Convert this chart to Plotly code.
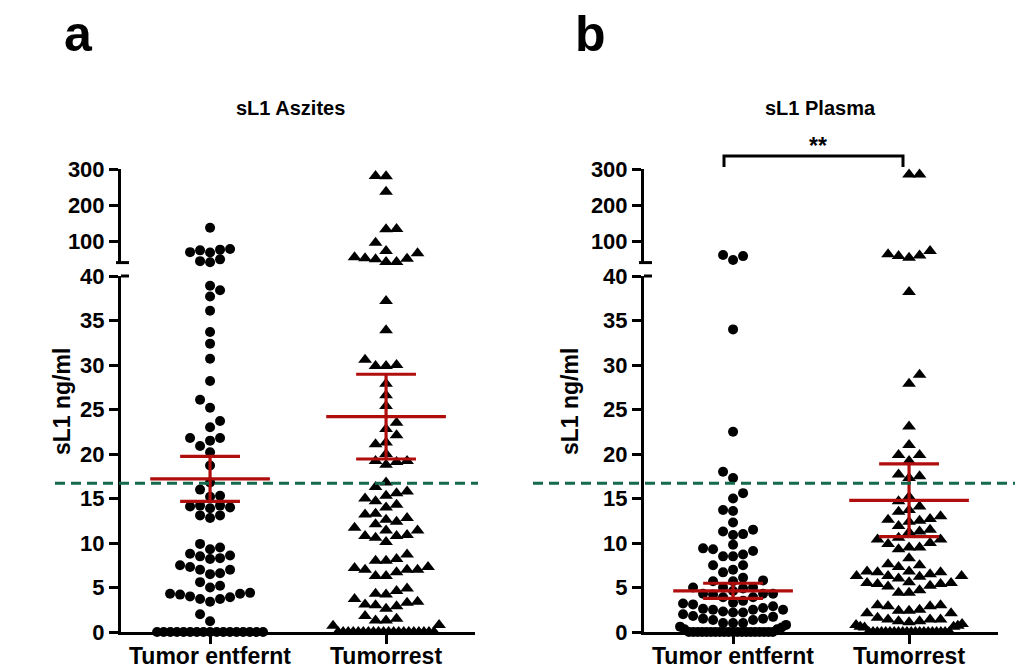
import numpy as np
import plotly.graph_objects as go

W, H = 1015, 668

categories = ["Tumor entfernt", "Tumorrest"]
panel_titles = ["sL1 Aszites", "sL1 Plasma"]
panel_letters = ["a", "b"]
y_title = "sL1 ng/ml"

lower_ticks = [0, 5, 10, 15, 20, 25, 30, 35, 40]
upper_ticks = [100, 200, 300]
lower_range = [0, 40]
upper_range = [40, 300]

cutoff = 16.7

aszites_entfernt = [
    137, 78, 74, 69, 76, 68, 49, 41, 44,
    38.9, 38.4, 37.7, 36.1, 33.7, 32.4, 30.7, 28.2, 26.1, 25.2, 23.7, 23.0,
    21.8, 21.5, 21.8, 20.9, 20.2, 18.7,
    16.8, 16.0, 15.2, 15.3, 14.0, 14.2, 14.1, 14.2, 13.9, 13.1, 12.8, 13.1,
    9.9, 9.5, 9.3, 8.6, 8.3, 8.2, 8.5, 8.8, 7.5, 7.3, 7.0, 6.5, 6.6, 7.0,
    5.2, 5.0, 5.6, 4.4, 4.2, 4.0, 3.7, 3.4, 3.7, 3.9, 4.3, 4.3, 2.0, 1.2,
    0, 0, 0, 0, 0, 0, 0, 0, 0, 0, 0, 0, 0, 0, 0, 0, 0,
]
aszites_rest = [
    280.6, 280, 237, 133, 132.5, 95, 72, 55, 51, 42, 42, 49, 52, 66,
    37.2, 33.9, 30.0, 29.9, 29.9, 30.6, 27.9, 26.6, 25.4, 23.5, 22.8, 22.1,
    21.1, 21.3, 20.0, 19.2, 19.1, 18.8, 19.2,
    16.8, 16.3, 15.6, 15.3, 15.8, 14.7, 15.0, 14.0, 14.3, 13.3, 12.4, 12.8,
    12.6, 13.2, 11.7, 11.4, 11.4, 12.1, 10.8, 10.6, 10.1, 10.8, 10.9,
    8.7, 8.2, 8.0, 8.0, 7.3, 7.2, 7.0, 6.7, 6.3, 6.3, 7.0, 7.0,
    4.9, 3.7, 3.3, 4.3, 4.2, 4.6, 3.0, 2.6, 2.9, 3.1, 3.4,
    1.8, 1.3, 1.3, 1.5, 0.7, 0.8,
    0, 0, 0, 0, 0, 0, 0, 0, 0, 0, 0, 0, 0, 0, 0, 0, 0, 0, 0, 0,
]
plasma_entfernt = [
    61, 47, 58,
    34.0, 22.5,
    18.0, 17.3, 15.6, 15.0, 13.7, 13.6, 12.3, 10.9, 11.3, 11.5, 11.0,
    9.8, 9.3, 9.1, 9.4, 8.7, 8.5, 8.5, 7.5, 7.5, 7.0, 6.7, 6.1, 5.7, 5.7,
    5.8, 5.0, 4.9, 5.0, 5.0,
    4.3, 4.3, 4.2, 4.3, 4.6, 3.9, 3.9,
    3.3, 3.1, 3.2, 3.5, 2.9, 2.3, 2.2, 2.6, 2.5, 2.5, 2.5, 2.7, 2.2, 2.0, 1.8, 1.7,
    1.0, 1.35, 0.8, 1.5, 1.35, 1.5, 1.0, 1.0, 0.6, 0.5, 0.3, 0.3,
    0, 0, 0, 0, 0, 0, 0, 0, 0, 0, 0, 0, 0, 0, 0, 0, 0, 0, 0, 0,
]
plasma_rest = [
    285, 285, 63, 58, 53.6, 60, 72,
    38.2, 28.9, 27.9, 23.1, 21.0, 19.9, 19.9, 19.2,
    17.5, 17.7, 17.3, 15.2,
    14.7, 14.1, 13.7, 13.0, 12.5, 12.6, 12.7, 11.5, 11.9, 11.3, 13.5, 12.4,
    11.2, 10.4, 10.6, 10.4, 10.0,
    9.5, 9.3, 9.5, 9.9, 8.3, 7.5, 7.3, 7.6, 6.8, 6.7, 6.3, 6.3, 6.2, 6.5,
    6.3, 6.7, 6.8, 5.4, 5.2, 5.6, 5.5, 5.5, 6.0, 5.1, 5.4,
    4.4, 4.4, 4.7, 3.0, 2.9, 2.4, 2.4, 2.5, 2.9, 3.0, 2.1, 2.1, 1.4, 1.4,
    1.2, 1.4, 1.6, 1.1, 1.2, 0.6, 0.8, 0.6, 0.5, 0.7, 0.9,
    0, 0, 0, 0, 0, 0, 0, 0, 0, 0, 0, 0, 0, 0, 0, 0, 0, 0, 0, 0,
]

aszites_mean = [17.2, 24.2]
aszites_sem = [2.53, 4.76]
plasma_mean = [4.63, 14.8]
plasma_sem = [0.85, 4.08]

panels = [
    dict(groups=[aszites_entfernt, aszites_rest], mean=aszites_mean, sem=aszites_sem),
    dict(groups=[plasma_entfernt, plasma_rest], mean=plasma_mean, sem=plasma_sem),
]

# ---------------- layout geometry (pixels) ----------------
FONT = "Arial, Liberation Sans, Helvetica, sans-serif"
AX_LEFT = [121, 644]
X_RANGE = [-0.506, 1.506]
PX_PER_CAT = 176.0
LOW_BOT, LOW_TOP = 632, 276
UP_BOT, UP_TOP = 262.6, 169
RED = "#b00d0d"
GREEN = "#13694a"
FLOOR = 0.95  # values this small sit in the compressed bottom row


def px(x):
    return x / W


def py(y):
    return 1 - y / H


def val_to_ypx(v):
    if v > lower_range[1]:
        return UP_BOT - (v - upper_range[0]) * (UP_BOT - UP_TOP) / (upper_range[1] - upper_range[0])
    return LOW_BOT - (v - lower_range[0]) * (LOW_BOT - LOW_TOP) / (lower_range[1] - lower_range[0])


def swarm(values, d, row_width):
    vals = np.asarray(values, float)
    ys = np.array([val_to_ypx(v) for v in vals])
    xs = np.zeros(len(vals))
    placed = []  # (x, y, collision distance)
    # bottom row: zeros in the middle, slightly raised values pushed to the ends
    floor = sorted([i for i in range(len(vals)) if vals[i] <= FLOOR], key=lambda i: vals[i])
    nf = len(floor)
    if nf:
        step = min(d, row_width / (nf - 1)) if nf > 1 else 0
        slots = sorted([(j - (nf - 1) / 2) * step for j in range(nf)], key=lambda s: abs(s))
        for s, i in zip(slots, floor):
            xs[i] = s
            placed.append((s, ys[i], 0.72 * d))
    order = sorted([i for i in range(len(vals)) if vals[i] > FLOOR], key=lambda i: vals[i])
    toggle = -1
    for i in order:
        y = ys[i]
        best = None
        for k in range(0, 40):
            if k == 0:
                cands = [0.0]
            else:
                left = sum(1 for (qx, qy, _) in placed if abs(qy - y) < d and qx < 0)
                right = sum(1 for (qx, qy, _) in placed if abs(qy - y) < d and qx > 0)
                if left < right:
                    sg = [-1, 1]
                elif right < left:
                    sg = [1, -1]
                else:
                    sg = [toggle, -toggle]
                    toggle = -toggle
                cands = [s * k * d for s in sg]
            for x in cands:
                if all((x - qx) ** 2 + (y - qy) ** 2 >= (0.97 * cd) ** 2 for qx, qy, cd in placed):
                    best = x
                    break
            if best is not None:
                break
        xs[i] = best
        placed.append((best, y, d))
    return xs


fig = go.Figure()

axis_names = [("x", "y", "y2"), ("x2", "y3", "y4")]
shapes = []
annotations = []

for p, panel in enumerate(panels):
    xn, yl, yu = axis_names[p]
    for g, vals in enumerate(panel["groups"]):
        sym = "circle" if g == 0 else "triangle-up"
        size = 10 if g == 0 else 12
        d = 10.0 if g == 0 else 10.5
        offs = swarm(vals, d, 106)
        arr = np.asarray(vals, float)
        xv = g + offs / PX_PER_CAT
        low = arr <= lower_range[1]
        for mask, ya in ((low, yl), (~low, yu)):
            fig.add_trace(go.Scatter(
                x=xv[mask], y=arr[mask], mode="markers", xaxis=xn, yaxis=ya,
                marker=dict(symbol=sym, size=size, color="black", line=dict(width=0)),
                hoverinfo="skip", showlegend=False, cliponaxis=False))
    # mean and SEM
    mx, my = [], []
    for g in range(2):
        m, s = panel["mean"][g], panel["sem"][g]
        mx += [g - 0.34, g + 0.34, None, g - 0.17, g + 0.17, None,
               g - 0.17, g + 0.17, None, g, g, None]
        my += [m, m, None, m + s, m + s, None, m - s, m - s, None, m - s, m + s, None]
    fig.add_trace(go.Scatter(x=mx, y=my, mode="lines", xaxis=xn, yaxis=yl,
                             line=dict(color=RED, width=3.2), hoverinfo="skip",
                             showlegend=False, cliponaxis=False))

    # cutoff dashed line
    x0, x1 = ([55, 478], [533, 1015])[p]
    shapes.append(dict(type="line", xref="paper", yref=yl, x0=px(x0), x1=px(x1),
                       y0=cutoff, y1=cutoff, layer="above",
                       line=dict(color=GREEN, width=3, dash="10px,6px")))

    # axis break caps
    axl = AX_LEFT[p]
    shapes.append(dict(type="line", xref="paper", yref="paper", x0=px(axl - 5), x1=px(axl + 8),
                       y0=py(UP_BOT), y1=py(UP_BOT), line=dict(color="black", width=3)))
    shapes.append(dict(type="line", xref="paper", yref="paper", x0=px(axl), x1=px(axl + 8),
                       y0=py(LOW_TOP), y1=py(LOW_TOP), line=dict(color="black", width=3)))

    # category labels
    for g, cat in enumerate(categories):
        annotations.append(dict(text=cat, x=g, xref=xn, y=py(656), yref="paper",
                                showarrow=False, xanchor="center", yanchor="middle",
                                font=dict(family=FONT, size=23, color="black", weight="bold")))

    # text
    annotations.append(dict(text=panel_titles[p], x=px([290, 820][p]), y=py(108), xref="paper",
                            yref="paper", showarrow=False, xanchor="center", yanchor="middle",
                            font=dict(family=FONT, size=20, color="black", weight="bold")))
    annotations.append(dict(text=panel_letters[p], x=px([78, 590][p]), y=py(34), xref="paper",
                            yref="paper", showarrow=False, xanchor="center", yanchor="middle",
                            font=dict(family=FONT, size=50, color="black", weight="bold")))
    annotations.append(dict(text=y_title, x=px([62, 570][p]), y=py(402), xref="paper",
                            yref="paper", showarrow=False, textangle=-90, xanchor="center",
                            yanchor="middle",
                            font=dict(family=FONT, size=23, color="black", weight="bold")))

# significance bracket in panel b
shapes.append(dict(type="path", xref="paper", yref="paper",
                   path=f"M {px(724)} {py(167)} L {px(724)} {py(156)} L {px(903)} {py(156)} L {px(903)} {py(167)}",
                   line=dict(color="black", width=3)))
annotations.append(dict(text="**", x=px(818), y=py(146), xref="paper", yref="paper",
                        showarrow=False, xanchor="center", yanchor="middle",
                        font=dict(family=FONT, size=23, color="black", weight="bold")))

tickfont = dict(family=FONT, size=22, color="black", weight="bold")
common_axis = dict(showline=True, linecolor="black", linewidth=3, ticks="outside",
                   ticklen=9, tickwidth=3, tickcolor="black", showgrid=False,
                   zeroline=False, tickfont=tickfont, automargin=False, fixedrange=True)

layout = dict(width=W, height=H, margin=dict(l=0, r=0, t=0, b=0),
              paper_bgcolor="white", plot_bgcolor="white", showlegend=False,
              shapes=shapes, annotations=annotations)

for p in range(2):
    xn, yl, yu = axis_names[p]
    xkey = "xaxis" if p == 0 else "xaxis2"
    ylkey = "yaxis" if p == 0 else "yaxis3"
    yukey = "yaxis2" if p == 0 else "yaxis4"
    axl = AX_LEFT[p]
    xdom = [px(axl), px(axl + PX_PER_CAT * (X_RANGE[1] - X_RANGE[0]))]
    layout[xkey] = dict(common_axis, domain=xdom, range=X_RANGE, anchor=yl,
                        tickvals=[0, 1], showticklabels=False)
    layout[ylkey] = dict(common_axis, domain=[py(LOW_BOT), py(LOW_TOP)], range=lower_range,
                         anchor=xn, tickvals=lower_ticks, ticktext=[str(t) for t in lower_ticks])
    layout[yukey] = dict(common_axis, domain=[py(UP_BOT), py(UP_TOP)], range=upper_range,
                         anchor=xn, tickvals=upper_ticks, ticktext=[str(t) for t in upper_ticks])

fig.update_layout(**layout)
fig.write_html("out.html")
